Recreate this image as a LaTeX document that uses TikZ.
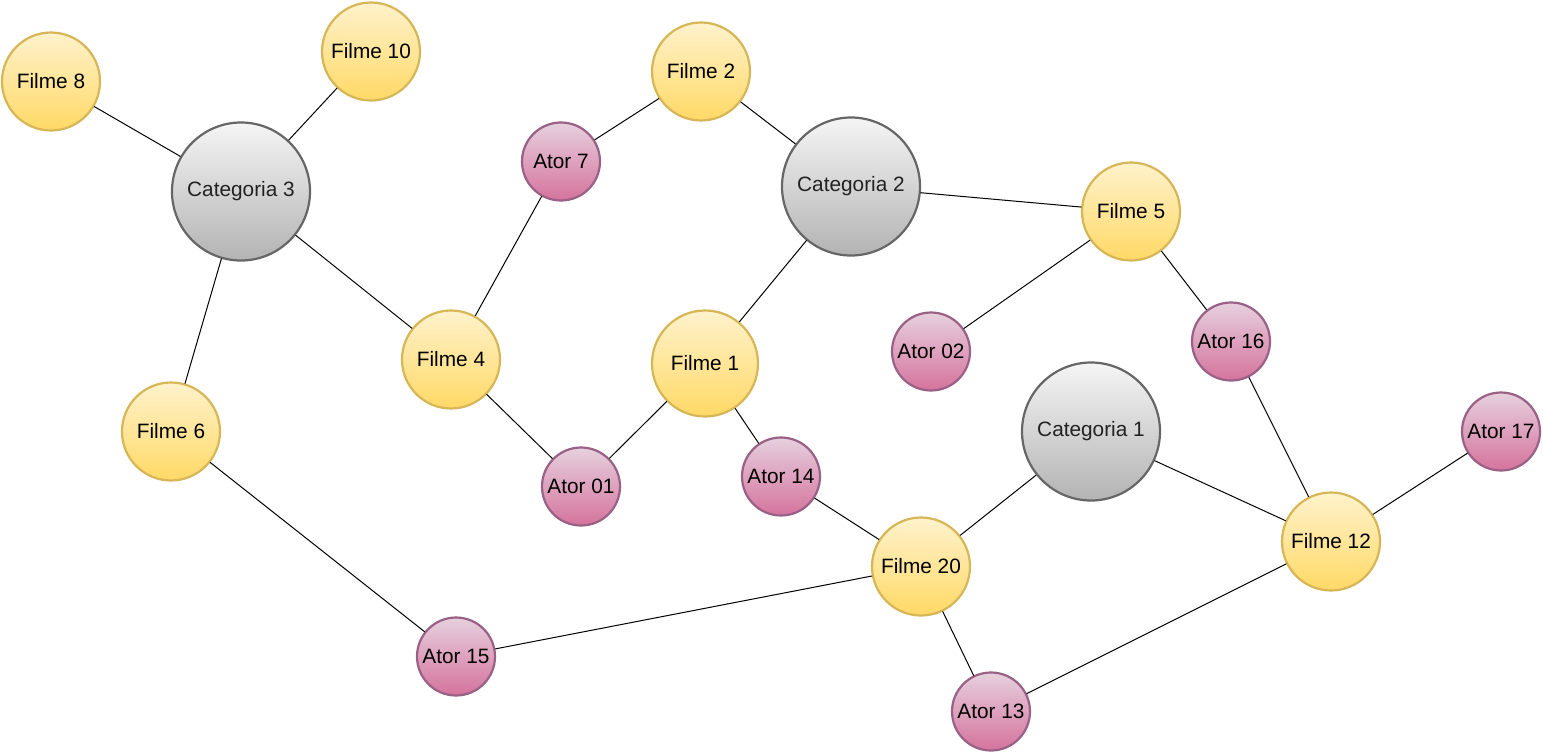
\documentclass[tikz,border=0pt]{standalone}
\usepackage{fontspec}
\setmainfont{Liberation Sans}
\definecolor{filmeTop}{HTML}{FFF2CC}
\definecolor{filmeBot}{HTML}{FFD966}
\definecolor{filmeLine}{HTML}{D6B656}
\definecolor{atorTop}{HTML}{E6D0DE}
\definecolor{atorBot}{HTML}{D5739D}
\definecolor{atorLine}{HTML}{996185}
\definecolor{catTop}{HTML}{F5F5F5}
\definecolor{catBot}{HTML}{B3B3B3}
\definecolor{catLine}{HTML}{666666}
\definecolor{catText}{HTML}{222222}
\begin{document}
\begin{tikzpicture}[x=.25mm,y=-.25mm,line join=round,line cap=round,
font=\fontsize{14.8}{17}\selectfont,
vertice/.style={circle,inner sep=0pt,line width=.55mm},
filme/.style={vertice,draw=filmeLine,top color=filmeTop,bottom color=filmeBot,minimum size=24.5mm},
ator/.style={vertice,draw=atorLine,top color=atorTop,bottom color=atorBot,minimum size=19.5mm},
cat/.style={vertice,draw=catLine,top color=catTop,bottom color=catBot,minimum size=34.5mm,text=catText},
aresta/.style={line width=.25mm}]
\useasboundingbox (0,0) rectangle (1543,753);
% categorias
\node[cat] (c3) at (241,191.5) {Categoria 3};
\node[cat] (c2) at (851,186.5) {Categoria 2};
\node[cat] (c1) at (1091,431.5) {Categoria 1};
% filmes
\node[filme] (f8) at (51,81.5) {Filme 8};
\node[filme] (f10) at (371,51.5) {Filme 10};
\node[filme] (f2) at (701,71.5) {Filme 2};
\node[filme] (f5) at (1131,211.5) {Filme 5};
\node[filme] (f4) at (451,359.5) {Filme 4};
\node[filme,minimum size=26.5mm] (f1) at (705,363.5) {Filme 1};
\node[filme] (f6) at (171,431.5) {Filme 6};
\node[filme] (f20) at (921,566.5) {Filme 20};
\node[filme] (f12) at (1331,541.5) {Filme 12};
% atores
\node[ator] (a7) at (561,161.5) {Ator 7};
\node[ator] (a02) at (931,351.5) {Ator 02};
\node[ator] (a16) at (1231,341.5) {Ator 16};
\node[ator] (a17) at (1501,431.5) {Ator 17};
\node[ator] (a01) at (581,486.5) {Ator 01};
\node[ator] (a14) at (781,476.5) {Ator 14};
\node[ator] (a15) at (456,656.5) {Ator 15};
\node[ator] (a13) at (991,711.5) {Ator 13};
% arestas
\foreach\p/\q in {f8/c3, f10/c3, c3/f4, c3/f6, f4/a7, a7/f2, f2/c2, c2/f5, c2/f1,
f4/a01, a01/f1, f1/a14, a14/f20, f5/a02, f5/a16, a16/f12, c1/f20, c1/f12,
a17/f12, f12/a13, f20/a13, f20/a15, f6/a15}
\draw[aresta] (\p)--(\q);
\end{tikzpicture}
\end{document}
